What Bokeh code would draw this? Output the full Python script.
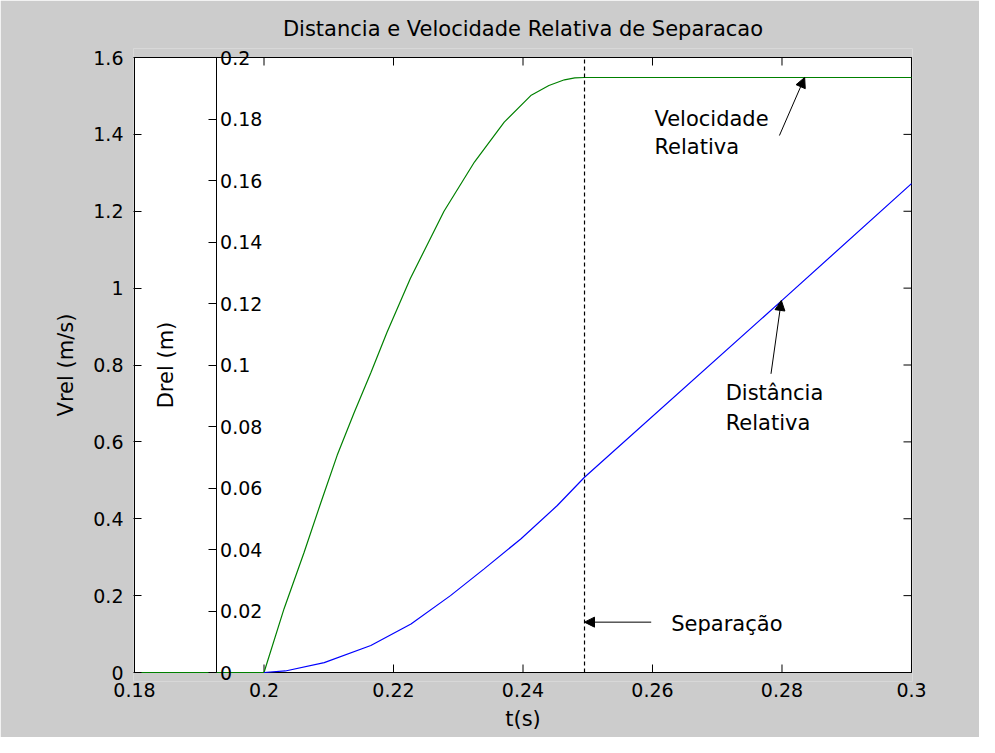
import math
from bokeh.plotting import figure
from bokeh.models import (Range1d, FixedTicker, NumeralTickFormatter, Arrow,
                          NormalHead, Label, LinearAxis)
from bokeh.embed import file_html
from bokeh.resources import INLINE

TITLE = "Distancia e Velocidade Relativa de Separacao"

# Relative velocity (green) - time [s], Vrel [m/s]
T_VREL = [0.18, 0.2000, 0.2031, 0.2062, 0.2088, 0.2113, 0.2139, 0.2165, 0.2190, 0.2226,
          0.2278, 0.2325, 0.2371, 0.2412, 0.2440, 0.2464, 0.2480, 0.2495, 0.3]
VREL = [0.0, 0.0, 0.166, 0.313, 0.443, 0.565, 0.675, 0.780, 0.885, 1.025,
        1.200, 1.328, 1.432, 1.501, 1.527, 1.542, 1.547, 1.548, 1.548]

# Relative distance (blue) - time [s], Drel [m]
T_DREL = [0.2000, 0.2033, 0.2093, 0.2165, 0.2227, 0.2288, 0.2340, 0.2397, 0.2453, 0.2495,
          0.2800, 0.3000]
DREL = [0.0, 0.0005, 0.0032, 0.0088, 0.0158, 0.0250, 0.0337, 0.0435, 0.0543, 0.0635,
        0.1210, 0.1590]

T_SEPARACAO = 0.2495

X_MIN, X_MAX = 0.18, 0.3
V_MIN, V_MAX = 0.0, 1.6
D_MIN, D_MAX = 0.0, 0.2

X_TICKS = [0.18, 0.2, 0.22, 0.24, 0.26, 0.28, 0.3]
VREL_TICKS = [0, 0.2, 0.4, 0.6, 0.8, 1, 1.2, 1.4, 1.6]
DREL_TICKS = [0, 0.02, 0.04, 0.06, 0.08, 0.1, 0.12, 0.14, 0.16, 0.18, 0.2]
DREL_TICK_LABELS = ["0", "0.02", "0.04", "0.06", "0.08", "0.1", "0.12", "0.14", "0.16",
                    "0.18", "0.2"]

# layout constants
DREL_AXIS_X = 0.1926
FONT = "DejaVu Sans"
FS = "19px"
FS_BIG = "21px"
TICK = 8
FRAME_W, FRAME_H = 777, 615      # visible axes box in px
PAD = 9                          # extra vertical room (px) around the box inside the frame
XPAD = 1

px_x = (X_MAX - X_MIN) / (FRAME_W - 1)
px_v = (V_MAX - V_MIN) / FRAME_H
px_d = (D_MAX - D_MIN) / FRAME_H

p = figure(width=979, height=737,
           x_range=Range1d(X_MIN - XPAD * px_x, X_MAX + XPAD * px_x),
           y_range=Range1d(V_MIN - PAD * px_v, V_MAX + PAD * px_v),
           output_backend="svg", toolbar_location=None, title=TITLE,
           min_border_left=134 - XPAD, min_border_right=68 - XPAD,
           min_border_top=57 - PAD, min_border_bottom=65 - PAD,
           background_fill_color="#cccccc", border_fill_color="#cccccc",
           outline_line_color=None)
p.extra_y_ranges = {"drel": Range1d(D_MIN - PAD * px_d, D_MAX + PAD * px_d)}
p.xgrid.visible = False
p.ygrid.visible = False

p.title.text_font = FONT
p.title.text_font_size = FS_BIG
p.title.text_font_style = "normal"
p.title.text_color = "black"
p.title.align = "center"
p.title.standoff = 25 - PAD

# white axes box
p.quad(left=[X_MIN], right=[X_MAX], bottom=[V_MIN], top=[V_MAX],
       fill_color="white", line_color="black", line_width=1)

# second (Drel) axis placed inside the frame at a fixed x position
drel_axis = LinearAxis(y_range_name="drel", fixed_location=DREL_AXIS_X,
                       ticker=FixedTicker(ticks=DREL_TICKS), bounds=(D_MIN, D_MAX),
                       major_label_overrides={t: s for t, s in zip(DREL_TICKS, DREL_TICK_LABELS)},
                       major_label_standoff=4)
p.add_layout(drel_axis, "right")

for ax in (p.xaxis[0], p.yaxis[0], drel_axis):
    ax.major_tick_in = TICK
    ax.major_tick_out = 0
    ax.minor_tick_in = 0
    ax.minor_tick_out = 0
    ax.axis_line_color = "black"
    ax.major_tick_line_color = "black"
    ax.major_label_text_font = FONT
    ax.major_label_text_font_size = FS
    ax.major_label_text_color = "black"
    ax.axis_label_text_font = FONT
    ax.axis_label_text_font_size = FS_BIG
    ax.axis_label_text_font_style = "normal"
    ax.axis_label_text_color = "black"
    ax.formatter = NumeralTickFormatter(format="0.[00]")

xa = p.xaxis[0]
xa.ticker = FixedTicker(ticks=X_TICKS)
xa.axis_label = "t(s)"
xa.axis_line_color = None
xa.major_tick_line_color = None
xa.major_label_standoff = 10 - PAD
xa.axis_label_standoff = 7

ya = p.yaxis[0]
ya.ticker = FixedTicker(ticks=VREL_TICKS)
ya.bounds = (V_MIN, V_MAX)
ya.axis_label = "Vrel (m/s)"
ya.axis_line_color = None
ya.major_label_standoff = 10
ya.axis_label_standoff = 12

# ticks on bottom, top and right edges of the box (pointing inward)
p.ray(x=X_TICKS, y=[V_MIN] * len(X_TICKS), length=TICK, length_units="screen",
      angle=math.pi / 2, line_color="black", line_width=1)
p.ray(x=X_TICKS, y=[V_MAX] * len(X_TICKS), length=TICK, length_units="screen",
      angle=-math.pi / 2, line_color="black", line_width=1)
p.ray(x=[X_MAX] * len(VREL_TICKS), y=VREL_TICKS, length=TICK, length_units="screen",
      angle=math.pi, line_color="black", line_width=1)

p.add_layout(Label(x=0.1848, y=0.8, text="Drel (m)", angle=math.pi / 2, text_align="center",
                   text_baseline="middle", text_font=FONT, text_font_size=FS_BIG,
                   text_color="black"))

# data
p.line(T_VREL, VREL, line_color="#008000", line_width=1.2)
p.line(T_DREL, DREL, y_range_name="drel", line_color="#0000ff", line_width=1.2)

# separation line
p.segment(x0=[T_SEPARACAO], y0=[V_MIN], x1=[T_SEPARACAO], y1=[V_MAX], line_color="black",
          line_width=1.2, line_dash="4 3")

# annotations
def arrow(x0, y0, x1, y1):
    p.add_layout(Arrow(end=NormalHead(size=10, fill_color="black", line_color="black"),
                       x_start=x0, y_start=y0, x_end=x1, y_end=y1,
                       line_color="black", line_width=1))

def text(x, y, s):
    p.add_layout(Label(x=x, y=y, text=s, text_align="left", text_baseline="middle",
                       text_font=FONT, text_font_size=FS_BIG, text_color="black"))

arrow(0.2796, 1.397, 0.2835, 1.548)
text(0.2603, 1.441, "Velocidade")
text(0.2603, 1.366, "Relativa")

arrow(0.2783, 0.777, 0.2799, 0.968)
text(0.2713, 0.726, "Distância")
text(0.2713, 0.650, "Relativa")

arrow(0.2598, 0.131, T_SEPARACAO, 0.131)
text(0.2629, 0.125, "Separação")

open("out.html", "w").write(file_html(p, INLINE))
